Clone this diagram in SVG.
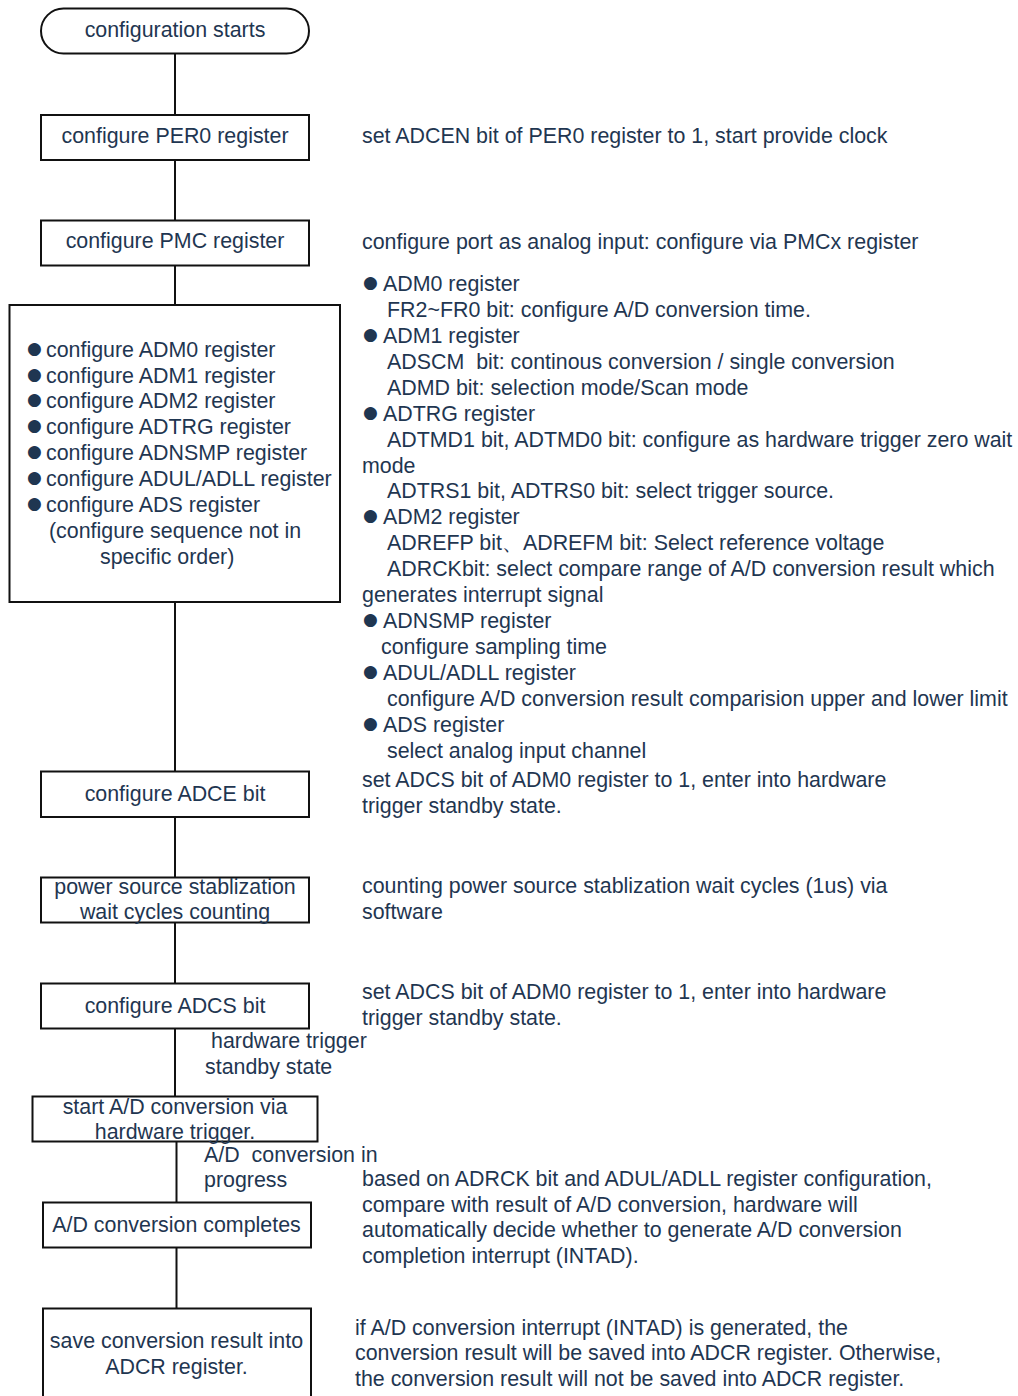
<svg xmlns="http://www.w3.org/2000/svg" width="1018" height="1396" viewBox="0 0 1018 1396">
<style>
text{font-family:"Liberation Sans",Arial,sans-serif;font-size:21.4px;fill:#1f3651}
.c{text-anchor:middle}
.box{fill:#fff;stroke:#111;stroke-width:2}
.ln{stroke:#111;stroke-width:2;fill:none}
.b{font-family:"DejaVu Sans",sans-serif;font-size:17px}
</style>
<rect width="1018" height="1396" fill="#fff"/>
<g id="connectors">
<line class="ln" x1="175" y1="54" x2="175" y2="115"/>
<line class="ln" x1="175" y1="160" x2="175" y2="220"/>
<line class="ln" x1="175" y1="266" x2="175" y2="305"/>
<line class="ln" x1="175" y1="602" x2="175" y2="771"/>
<line class="ln" x1="175" y1="817" x2="175" y2="877"/>
<line class="ln" x1="175" y1="923" x2="175" y2="983"/>
<line class="ln" x1="175" y1="1028" x2="175" y2="1096"/>
<line class="ln" x1="176.5" y1="1142" x2="176.5" y2="1202"/>
<line class="ln" x1="176.5" y1="1247" x2="176.5" y2="1308"/>
<text x="211" y="1048">hardware trigger</text>
<text x="205" y="1074">standby state</text>
<text x="204" y="1162">A/D &#160;conversion in</text>
<text x="204" y="1187">progress</text>
</g>
<g id="n-start">
<rect class="box" x="41" y="8.5" width="268" height="45" rx="22.5"/>
<text class="c" x="175" y="37">configuration starts</text>
</g>
<g id="n-per0">
<rect class="box" x="41" y="115" width="268" height="45"/>
<text class="c" x="175" y="143">configure PER0 register</text>
</g>
<g id="n-pmc">
<rect class="box" x="41" y="220.5" width="268" height="45"/>
<text class="c" x="175" y="248">configure PMC register</text>
</g>
<g id="n-regs">
<rect class="box" x="9.5" y="305" width="330.5" height="297"/>
<text y="357"><tspan class="b" x="27" dy="-3">●</tspan><tspan x="46" dy="3">configure ADM0 register</tspan></text>
<text y="383"><tspan class="b" x="27" dy="-3">●</tspan><tspan x="46" dy="3">configure ADM1 register</tspan></text>
<text y="408"><tspan class="b" x="27" dy="-3">●</tspan><tspan x="46" dy="3">configure ADM2 register</tspan></text>
<text y="434"><tspan class="b" x="27" dy="-3">●</tspan><tspan x="46" dy="3">configure ADTRG register</tspan></text>
<text y="460"><tspan class="b" x="27" dy="-3">●</tspan><tspan x="46" dy="3">configure ADNSMP register</tspan></text>
<text y="486"><tspan class="b" x="27" dy="-3">●</tspan><tspan x="46" dy="3">configure ADUL/ADLL register</tspan></text>
<text y="512"><tspan class="b" x="27" dy="-3">●</tspan><tspan x="46" dy="3">configure ADS register</tspan></text>
<text x="49" y="538">(configure sequence not in</text>
<text x="100" y="564">specific order)</text>
</g>
<g id="n-adce">
<rect class="box" x="41" y="771.5" width="268" height="45.5"/>
<text class="c" x="175" y="801">configure ADCE bit</text>
</g>
<g id="n-power">
<rect class="box" x="41" y="877.5" width="268" height="45"/>
<text class="c" x="175" y="894">power source stablization</text>
<text class="c" x="175" y="919">wait cycles counting</text>
</g>
<g id="n-adcs">
<rect class="box" x="41" y="983.5" width="268" height="45"/>
<text class="c" x="175" y="1013">configure ADCS bit</text>
</g>
<g id="n-hwstart">
<rect class="box" x="32.5" y="1096.5" width="285" height="45"/>
<text class="c" x="175" y="1114">start A/D conversion via</text>
<text class="c" x="175" y="1139">hardware trigger.</text>
</g>
<g id="n-complete">
<rect class="box" x="43" y="1202.5" width="268" height="45"/>
<text class="c" x="176.5" y="1232">A/D conversion completes</text>
</g>
<g id="n-save">
<rect class="box" x="43" y="1308.5" width="268" height="100"/>
<text class="c" x="176.5" y="1348">save conversion result into</text>
<text class="c" x="176.5" y="1374">ADCR register.</text>
</g>
<g id="notes">
<text x="362" y="143">set ADCEN bit of PER0 register to 1, start provide clock</text>
<text x="362" y="249">configure port as analog input: configure via PMCx register</text>
<text y="291"><tspan class="b" x="363" dy="-3">●</tspan><tspan x="383" dy="3">ADM0 register</tspan></text>
<text x="387" y="317">FR2~FR0 bit: configure A/D conversion time.</text>
<text y="343"><tspan class="b" x="363" dy="-3">●</tspan><tspan x="383" dy="3">ADM1 register</tspan></text>
<text x="387" y="369">ADSCM &#160;bit: continous conversion / single conversion</text>
<text x="387" y="395">ADMD bit: selection mode/Scan mode</text>
<text y="421"><tspan class="b" x="363" dy="-3">●</tspan><tspan x="383" dy="3">ADTRG register</tspan></text>
<text x="387" y="447">ADTMD1 bit, ADTMD0 bit: configure as hardware trigger zero wait</text>
<text x="362" y="473">mode</text>
<text x="387" y="498">ADTRS1 bit, ADTRS0 bit: select trigger source.</text>
<text y="524"><tspan class="b" x="363" dy="-3">●</tspan><tspan x="383" dy="3">ADM2 register</tspan></text>
<text x="387" y="550">ADREFP bit、ADREFM bit: Select reference voltage</text>
<text x="387" y="576">ADRCKbit: select compare range of A/D conversion result which</text>
<text x="362" y="602">generates interrupt signal</text>
<text y="628"><tspan class="b" x="363" dy="-3">●</tspan><tspan x="383" dy="3">ADNSMP register</tspan></text>
<text x="381" y="654">configure sampling time</text>
<text y="680"><tspan class="b" x="363" dy="-3">●</tspan><tspan x="383" dy="3">ADUL/ADLL register</tspan></text>
<text x="387" y="706">configure A/D conversion result comparision upper and lower limit</text>
<text y="732"><tspan class="b" x="363" dy="-3">●</tspan><tspan x="383" dy="3">ADS register</tspan></text>
<text x="387" y="758">select analog input channel</text>
<text x="362" y="787">set ADCS bit of ADM0 register to 1, enter into hardware</text>
<text x="362" y="813">trigger standby state.</text>
<text x="362" y="893">counting power source stablization wait cycles (1us) via</text>
<text x="362" y="919">software</text>
<text x="362" y="999">set ADCS bit of ADM0 register to 1, enter into hardware</text>
<text x="362" y="1025">trigger standby state.</text>
<text x="362" y="1186">based on ADRCK bit and ADUL/ADLL register configuration,</text>
<text x="362" y="1212">compare with result of A/D conversion, hardware will</text>
<text x="362" y="1237">automatically decide whether to generate A/D conversion</text>
<text x="362" y="1263">completion interrupt (INTAD).</text>
<text x="355" y="1335">if A/D conversion interrupt (INTAD) is generated, the</text>
<text x="355" y="1360">conversion result will be saved into ADCR register. Otherwise,</text>
<text x="355" y="1386">the conversion result will not be saved into ADCR register.</text>
</g>
</svg>
